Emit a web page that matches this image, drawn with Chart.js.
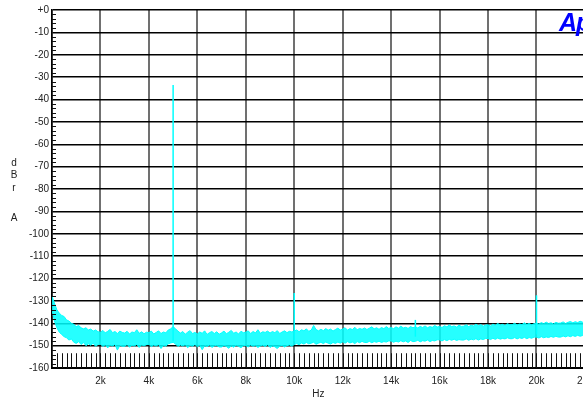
<!DOCTYPE html>
<html>
<head>
<meta charset="utf-8">
<title>FFT spectrum</title>
<script src="https://cdn.jsdelivr.net/npm/chart.js@4.4.1/dist/chart.umd.min.js"></script>
<style>
    html, body {
        margin: 0;
        padding: 0;
        background: #fff;
    }
    body {
        width: 583px;
        height: 400px;
        overflow: hidden;
        position: relative;
        font-family: 'Liberation Sans Narrow', 'Arial Narrow', 'Liberation Sans', Arial, sans-serif;
    }
    #fftChart {
        position: absolute;
        left: 0;
        top: 0;
    }
    .ylab {
        position: absolute;
        width: 12px;
        margin-left: -6px;
        text-align: center;
        font-size: 10px;
        line-height: 10px;
        color: #222;
    }
    #apLogo {
        position: absolute;
        left: 559px;
        top: 10px;
        font-size: 25px;
        line-height: 25px;
        font-weight: bold;
        font-style: italic;
        color: #0000ff;
        letter-spacing: -1px;
    }
</style>
</head>
<body>
<canvas id="fftChart" width="600" height="400"></canvas>
<div class="ylab" style="left:14px; top:158px;">d</div>
<div class="ylab" style="left:14px; top:170px;">B</div>
<div class="ylab" style="left:14px; top:183px;">r</div>
<div class="ylab" style="left:14px; top:213px;">A</div>
<div id="apLogo">Ap</div>

<script>
// FFT bin spacing of the noise floor arrays (Hz)
const binStep = 100;

// noise floor envelope, one value per bin from 0 Hz to 22 kHz (dBr A), 1 kHz per row
const floorTop = [
    -128, -131, -134, -135.5, -136.5, -137, -138.5, -139, -140, -140.5,
    -141.5, -141, -142, -142.5, -142, -143, -142.6, -143.5, -143, -143.8,
    -144, -143.2, -144.3, -143.6, -142.8, -144.2, -143.7, -144.6, -143.5, -144.1,
    -144.4, -143.6, -144.8, -143.9, -144.2, -142.9, -144.5, -143.8, -144.7, -144,
    -144.2, -143.5, -144.8, -144.1, -143.4, -144.6, -143.9, -144.3, -143, -142.5,
    -141.5, -142.5, -143.5, -144.4, -143.7, -144.9, -144, -143.3, -144.6, -144.1,
    -144.8, -143.9, -144.5, -143.4, -145, -144.2, -143.7, -144.6, -143.8, -144.9,
    -144.3, -143.5, -144.7, -144, -143.2, -144.5, -143.9, -144.8, -143.6, -144.2,
    -144, -143.4, -144.6, -143.7, -144.3, -142.9, -144.5, -143.8, -144.1, -143.5,
    -144.4, -143.7, -144.2, -143.3, -144.6, -143.9, -143.4, -144.2, -143.6, -143.9,
    -143.5, -143, -143.8, -142.9, -143.4, -142.5, -143.6, -143.1, -141, -142.8,
    -143.4, -142.7, -143.3, -142.4, -143.1, -142.6, -143.5, -142.8, -142.2, -143,
    -142.6, -142, -143.1, -142.4, -142.8, -141.8, -142.9, -142.3, -142.7, -142.1,
    -142.8, -142.2, -141.6, -142.5, -142, -142.7, -141.9, -142.4, -141.5, -142.3,
    -141.9, -142.4, -141.6, -142.2, -141.3, -142.1, -141.8, -142.3, -141.5, -142,
    -141.6, -142.1, -141.4, -141.9, -141.2, -142, -141.5, -141.8, -141, -141.7,
    -141.4, -141.9, -141.1, -141.6, -140.8, -141.5, -141.2, -141.7, -140.9, -141.4,
    -141.3, -140.7, -141.5, -140.9, -141.2, -140.4, -141.1, -140.6, -141.3, -140.8,
    -140.7, -141.2, -140.4, -140.9, -140.1, -140.8, -140.5, -141, -140.2, -140.7,
    -140.6, -140, -140.8, -140.3, -140.6, -139.8, -140.5, -140.1, -140.7, -140.2,
    -140, -140.4, -139.7, -140.2, -139.5, -140.1, -139.8, -140.3, -139.6, -140,
    -139.9, -139.4, -140.1, -139.6, -139.2, -139.8, -139.3, -139.7, -139.1, -139.5,
    -139.2
];
const floorBottom = [
    -134, -139, -142, -144, -145, -146, -146.5, -147.5, -147, -148.5,
    -149, -148.2, -149.5, -148.6, -150, -149.2, -149.8, -148.9, -150.3, -149.5,
    -149.3, -150.4, -149.6, -151, -149.8, -150.2, -149.4, -152, -149.9, -150.3,
    -150.3, -149.5, -150.7, -149.8, -150.2, -149.4, -150.8, -149.7, -150.1, -149.6,
    -149.4, -150.5, -149.7, -150.2, -149.5, -151.3, -149.9, -150.3, -149.2, -148.8,
    -148.5, -149.3, -150.4, -149.7, -150.2, -149.6, -150.9, -149.9, -150.3, -149.5,
    -150.5, -149.8, -151.8, -150, -150.4, -149.7, -150.8, -150.1, -149.9, -150.6,
    -150.6, -149.9, -150.4, -151.2, -150.1, -150.7, -149.8, -150.3, -150.9, -150,
    -150, -150.6, -149.7, -150.3, -149.9, -150.8, -150.2, -149.8, -150.4, -149.6,
    -150.8, -150.1, -150.5, -151.3, -150.2, -149.9, -150.6, -150, -149.7, -150.3,
    -149.5, -149.1, -149.6, -148.8, -149.3, -148.6, -149.2, -148.9, -148.5, -149.4,
    -148.9, -148.5, -149.1, -148.4, -148.9, -149.3, -148.6, -149, -148.4, -148.9,
    -148.3, -148.9, -148.2, -148.8, -148.4, -149.1, -148.2, -148.7, -148.1, -148.6,
    -148.6, -148.1, -148.7, -148.2, -148.5, -148, -148.6, -148.2, -148.4, -147.9,
    -147.9, -148.5, -148, -148.4, -147.8, -148.3, -147.9, -148.6, -147.7, -148.2,
    -148.1, -147.6, -148.3, -147.8, -148, -147.5, -148.2, -147.7, -147.9, -147.4,
    -147.4, -147.9, -147.3, -147.8, -147.2, -147.6, -147.1, -147.7, -147.3, -147.5,
    -147.5, -147, -147.6, -147.1, -147.4, -146.9, -147.5, -147, -147.3, -146.8,
    -146.8, -147.3, -146.7, -147.2, -146.6, -147.1, -146.8, -147, -146.5, -146.9,
    -146.9, -146.4, -147, -146.5, -146.8, -146.3, -146.9, -146.4, -146.7, -146.2,
    -146.2, -146.6, -146, -146.5, -146.1, -146.4, -145.9, -146.3, -145.8, -146.2,
    -146.2, -145.7, -146.1, -145.6, -146, -145.5, -145.9, -145.4, -145.8, -145.5,
    -145.4
];

// tone and harmonics above the floor
const spikeHz = [5000, 10000, 15000, 20000];
const spikeDb = [-33.5, -126.5, -138.5, -127.5];
const spikeBase = [-148, -148, -146, -145];

const yTickLabels = { 0: '+0' };

const traceColor = 'rgb(0, 255, 255)';

function floorPoints(values) {
    return values.map((v, i) => ({ x: i * binStep, y: v }));
}

const datasets = [
    {
        data: floorPoints(floorTop),
        borderColor: traceColor,
        borderWidth: 1,
        pointRadius: 0,
        fill: false
    },
    {
        data: floorPoints(floorBottom),
        borderColor: traceColor,
        backgroundColor: 'rgba(0, 255, 255, 0.85)',
        borderWidth: 1,
        pointRadius: 0,
        fill: '-1'
    }
];

spikeHz.forEach((hz, i) => {
    datasets.push({
        data: [{ x: hz, y: spikeBase[i] }, { x: hz, y: spikeDb[i] }],
        borderColor: traceColor,
        borderWidth: 1.5,
        pointRadius: 0,
        fill: false
    });
});

// small tick marks: every 2 dB on the left edge, every 200 Hz along the bottom
const minorTicks = {
    id: 'minorTicks',
    afterDraw(chart) {
        const c = chart.ctx;
        const area = chart.chartArea;
        const xs = chart.scales.x;
        const ys = chart.scales.y;
        c.save();
        c.strokeStyle = '#111';
        c.lineWidth = 1;
        c.beginPath();
        for (let v = -158; v < 0; v += 2) {
            if (v % 10 === 0) continue;
            const py = Math.round(ys.getPixelForValue(v)) + 0.5;
            c.moveTo(area.left, py);
            c.lineTo(area.left + 4, py);
        }
        for (let hz = 200; hz < 22000; hz += 200) {
            const px = Math.round(xs.getPixelForValue(hz)) + 0.5;
            c.moveTo(px, area.bottom);
            c.lineTo(px, ys.getPixelForValue(-153.4));
        }
        c.stroke();
        c.restore();
    }
};

Chart.defaults.font.family = "'Liberation Sans Narrow', 'Arial Narrow', 'Liberation Sans', Arial, sans-serif";
Chart.defaults.font.size = 10;
Chart.defaults.color = '#222';

const ctx = document.getElementById('fftChart').getContext('2d');

window.fftChart = new Chart(ctx, {
    type: 'line',
    data: { datasets: datasets },
    options: {
        responsive: false,
        devicePixelRatio: 1,
        animation: false,
        layout: {
            padding: { left: 0, top: 10, right: 14, bottom: 0 }
        },
        plugins: {
            legend: { display: false },
            tooltip: { enabled: false }
        },
        elements: {
            line: { tension: 0 }
        },
        scales: {
            x: {
                type: 'linear',
                min: 0,
                max: 22000,
                afterFit: scale => { scale.height = 32; },
                ticks: {
                    stepSize: 2000,
                    autoSkip: false,
                    maxRotation: 0,
                    padding: 7,
                    callback: v => v === 0 ? '' : (v / 1000) + 'k'
                },
                grid: {
                    color: '#707070',
                    lineWidth: 2,
                    drawTicks: false
                },
                border: {
                    color: '#000',
                    width: 2
                },
                title: {
                    display: true,
                    text: 'Hz',
                    padding: { top: 0, bottom: 0 },
                    font: { size: 10 }
                }
            },
            y: {
                min: -160,
                max: 0,
                afterFit: scale => { scale.width = 52; },
                ticks: {
                    stepSize: 10,
                    padding: 3,
                    callback: v => yTickLabels[v] || String(v)
                },
                grid: {
                    color: '#000',
                    lineWidth: 1.5,
                    drawTicks: false
                },
                border: {
                    color: '#000',
                    width: 1.5
                }
            }
        }
    },
    plugins: [minorTicks]
});
</script>
</body>
</html>
